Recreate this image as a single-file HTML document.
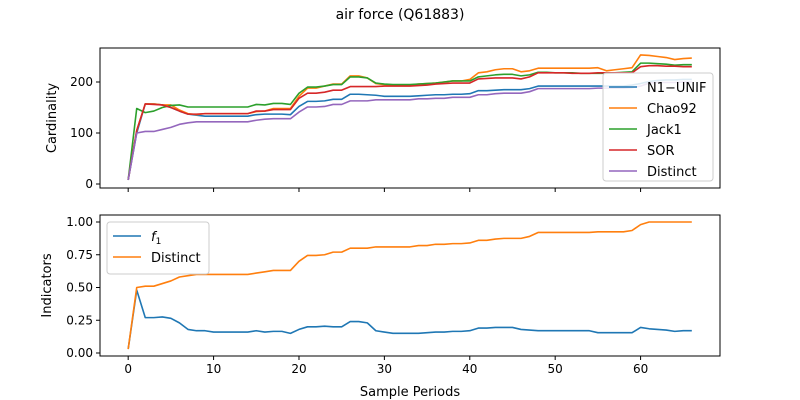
<!DOCTYPE html>
<html><head><meta charset="utf-8"><style>body{margin:0;background:#fff}svg{display:block;font-family:"DejaVu Sans","Liberation Sans",sans-serif}</style></head>
<body>
<svg id="c" width="800" height="400"></svg>
<script>
const periods = Array.from({length:67},(_,i)=>i);
const n1unif = [8,100,157,157,155,150,143,137,135,133,133,133,133,133,133,136,137,137,137,136,152,162,162,163,166,166,176,176,175,174,172,172,172,172,173,174,175,175,176,176,177,183,183,184,185,185,185,187,192,192,192,192,192,192,192,192,192,192,192,194,197,201,203,204,204,205,205];
const chao92 = [8,105,157,157,155,155,145,138,136,138,138,138,138,138,138,142,143,148,148,148,172,188,188,192,196,196,212,212,208,197,195,194,194,194,196,197,198,200,202,202,205,218,220,224,226,226,220,222,227,227,227,227,227,227,227,228,222,224,226,228,253,252,250,248,244,246,247];
const jack1 = [8,148,140,143,150,154,155,151,151,151,151,151,151,151,151,156,155,158,158,156,178,190,190,192,195,195,210,210,208,198,196,195,195,195,196,197,198,200,202,202,202,210,212,214,215,215,212,214,219,219,218,218,218,217,217,217,217,218,219,220,237,237,236,235,233,234,234];
const sor = [8,105,157,156,155,150,143,137,137,138,138,138,138,138,138,143,143,146,146,146,168,178,178,180,184,184,191,191,191,191,192,192,192,192,193,194,196,197,198,198,198,206,207,208,208,208,206,210,218,218,218,218,217,217,217,218,218,218,218,218,230,232,232,231,231,230,230];
const distinctCount = [8,100,103,103,107,111,117,120,122,122,122,122,122,122,122,125,127,128,128,128,141,151,151,152,156,156,163,163,163,165,165,165,165,165,167,167,168,168,170,170,170,175,175,177,178,178,178,181,187,187,187,187,187,187,187,188,188,188,188,189,192,198,199,199,199,200,200];
const f1 = [0.03,0.48,0.27,0.27,0.275,0.265,0.23,0.18,0.17,0.17,0.16,0.16,0.16,0.16,0.16,0.17,0.16,0.165,0.165,0.15,0.18,0.2,0.2,0.205,0.2,0.2,0.24,0.24,0.23,0.17,0.16,0.15,0.15,0.15,0.15,0.155,0.16,0.16,0.165,0.165,0.17,0.19,0.19,0.195,0.195,0.195,0.18,0.175,0.17,0.17,0.17,0.17,0.17,0.17,0.17,0.155,0.155,0.155,0.155,0.155,0.195,0.185,0.18,0.175,0.165,0.17,0.17];
const distinctRatio = [0.03,0.50,0.51,0.51,0.53,0.55,0.58,0.59,0.60,0.60,0.60,0.60,0.60,0.60,0.60,0.61,0.62,0.63,0.63,0.63,0.70,0.745,0.745,0.75,0.77,0.77,0.80,0.80,0.80,0.81,0.81,0.81,0.81,0.81,0.82,0.82,0.83,0.83,0.835,0.835,0.84,0.86,0.86,0.87,0.875,0.875,0.875,0.89,0.92,0.92,0.92,0.92,0.92,0.92,0.92,0.925,0.925,0.925,0.925,0.935,0.98,1.0,1.0,1.0,1.0,1.0,1.0];
const xTicks = [0,10,20,30,40,50,60];
const topTicks = [0,100,200];
const botTicks = [0,0.25,0.5,0.75,1.0];
const botTickLabels = ["0.00","0.25","0.50","0.75","1.00"];

const NS="http://www.w3.org/2000/svg", svg=document.getElementById('c');
function el(t,a,p){const e=document.createElementNS(NS,t);for(const k in a)e.setAttribute(k,a[k]);(p||svg).appendChild(e);return e;}
const L=100,R=720;
const x=v=>L+(v+3.3)/(72.6)*(R-L);
const yTop=v=>184-v*0.51;
const yBot=v=>353-v*131;
function txt(s,a,name){const t=el('text',a);t.textContent=s;return t;}
txt('air force (Q61883)',{x:400,y:19,'text-anchor':'middle','font-size':14},'chart-title');
function axes(top,bot,yf,ticks,labels,title,name){
  const g=el('g',{});
  ticks.forEach((t,i)=>{const yy=yf(t);el('line',{x1:L-4,x2:L,y1:yy,y2:yy,stroke:'#000'},g);
    const tt=el('text',{x:L-7,y:yy+4,'text-anchor':'end','font-size':12},g);tt.textContent=labels[i];});
  xTicks.forEach(t=>{el('line',{x1:x(t),x2:x(t),y1:bot,y2:bot+4,stroke:'#000'},g);});
  const yt=el('text',{transform:`translate(${name==='top-axes'?56:51},${(top+bot)/2}) rotate(-90)`,'text-anchor':'middle','font-size':13},g);yt.textContent=title;
  return g;
}
function line(data,yf,color,name){const p=el('polyline',{points:data.map((v,i)=>x(periods[i])+','+yf(v)).join(' '),fill:'none',stroke:color,'stroke-width':1.6,'stroke-linejoin':'round'});}
axes(48,188,yTop,topTicks,topTicks.map(String),'Cardinality','top-axes');
line(n1unif,yTop,'#1f77b4','line-n1-unif');
line(chao92,yTop,'#ff7f0e','line-chao92');
line(jack1,yTop,'#2ca02c','line-jack1');
line(sor,yTop,'#d62728','line-sor');
line(distinctCount,yTop,'#9467bd','line-distinct');
el('rect',{x:L,y:48,width:R-L,height:140,fill:'none',stroke:'#000'});
axes(215,356,yBot,botTicks,botTickLabels,'Indicators','bottom-axes');
line(f1,yBot,'#1f77b4','line-f1');
line(distinctRatio,yBot,'#ff7f0e','line-distinct-ratio');
el('rect',{x:L,y:215,width:R-L,height:141,fill:'none',stroke:'#000'});
xTicks.forEach(t=>txt(String(t),{x:x(t),y:373,'text-anchor':'middle','font-size':12},'x-tick-label'));
txt('Sample Periods',{x:410,y:396,'text-anchor':'middle','font-size':13},'x-axis-title');
// legends
function legend(x0,y0,w,h,items,name){const g=el('g',{});
  el('rect',{x:x0,y:y0,width:w,height:h,rx:3,fill:'#fff','fill-opacity':0.85,stroke:'#ccc'},g);
  items.forEach((it,i)=>{const yy=y0+14+i*21;el('line',{x1:x0+6,x2:x0+34,y1:yy,y2:yy,stroke:it[1],'stroke-width':1.6},g);
    const t=el('text',{x:x0+44,y:yy+5,'font-size':13},g);t.innerHTML=it[0];});}
legend(603,73,110,108,[['N1\u2212UNIF','#1f77b4'],['Chao92','#ff7f0e'],['Jack1','#2ca02c'],['SOR','#d62728'],['Distinct','#9467bd']],'top-legend');
legend(107,222,102,52,[['<tspan font-style="italic">f</tspan><tspan font-size="9" dy="3">1</tspan>','#1f77b4'],['Distinct','#ff7f0e']],'bottom-legend');
</script>
</body></html>
